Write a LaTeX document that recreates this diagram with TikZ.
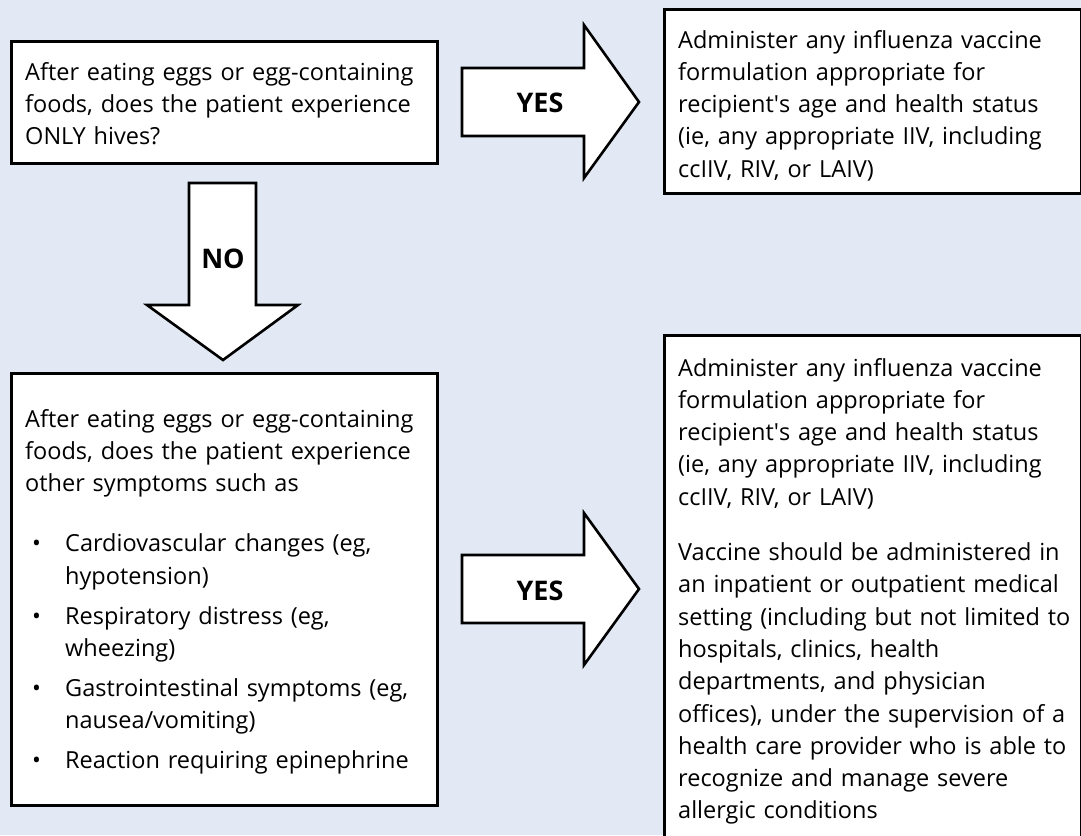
\documentclass[tikz,border=0pt]{standalone}
\usepackage{fontspec}
\setmainfont{Open Sans}
\definecolor{bgblue}{RGB}{227,233,244}
\newcommand{\bulitem}{\makebox[40pt][l]{\hspace{7pt}\textbullet}}
\newcommand{\bulindent}{\hspace*{40pt}}
\tikzset{
	boxline/.style={draw=black, fill=white, line width=3pt},
	arrowline/.style={draw=black, fill=white, line width=2.6pt, line join=miter},
	txt/.style={anchor=base west, inner sep=0pt, text width=460pt, align=left, font=\fontsize{23.5}{32.3}\selectfont},
	lbl/.style={inner sep=0pt, font=\fontsize{27}{30}\selectfont\bfseries}
}

\begin{document}
\begin{tikzpicture}[x=1pt, y=-1pt]
			%%%%% START %%%%%
			
			\fill[bgblue] (0, 0) rectangle (1081, 835);
			\useasboundingbox (0, 0) rectangle (1081, 835);
			
			% question boxes
			\draw[boxline] (11, 41) rectangle (437, 163);
			\node[txt] (onlyhives) at (25, 80) {After eating eggs or egg-containing\\
				foods, does the patient experience\\
				ONLY hives?};
			
			\draw[boxline] (11, 373) rectangle (437, 805);
			\node[txt] (othersympt) at (25, 427) {After eating eggs or egg-containing\\
				foods, does the patient experience\\
				other symptoms such as\\[28pt]
				\bulitem Cardiovascular changes (eg,\\
				\bulindent hypotension)\\[8pt]
				\bulitem Respiratory distress (eg,\\
				\bulindent wheezing)\\[7pt]
				\bulitem Gastrointestinal symptoms (eg,\\
				\bulindent nausea/vomiting)\\[8pt]
				\bulitem Reaction requiring epinephrine};
			
			% answer boxes
			\draw[boxline] (664, 9) rectangle (1081, 193);
			\node[txt] (anyvacc) at (678, 48) {Administer any influenza vaccine\\
				formulation appropriate for\\
				recipient\textquotesingle s age and health status\\
				(ie, any appropriate IIV, including\\
				ccIIV, RIV, or LAIV)};
			
			\draw[boxline] (664, 335) rectangle (1081, 845);
			\node[txt] (medsetting) at (678, 376) {Administer any influenza vaccine\\
				formulation appropriate for\\
				recipient\textquotesingle s age and health status\\
				(ie, any appropriate IIV, including\\
				ccIIV, RIV, or LAIV)\\[23pt]
				Vaccine should be administered in\\
				an inpatient or outpatient medical\\
				setting (including but not limited to\\
				hospitals, clinics, health\\
				departments, and physician\\
				offices), under the supervision of a\\
				health care provider who is able to\\
				recognize and manage severe\\
				allergic conditions};
			
			% block arrows
			\draw[arrowline] (462, 68) -- (584, 68) -- (584, 25) -- (639, 102) -- (584, 178) -- (584, 136) -- (462, 136) -- cycle;
			\node[lbl] (yestop) at (540, 103) {YES};
			
			\draw[arrowline] (189, 183) -- (256, 183) -- (256, 305) -- (298, 305) -- (223, 360) -- (147, 305) -- (189, 305) -- cycle;
			\node[lbl] (no) at (223, 259) {NO};
			
			\draw[arrowline] (462, 555) -- (584, 555) -- (584, 513) -- (639, 589) -- (584, 665) -- (584, 623) -- (462, 623) -- cycle;
			\node[lbl] (yesbottom) at (540, 591) {YES};
			
			%%%%% END %%%%%
\end{tikzpicture}
\end{document}
